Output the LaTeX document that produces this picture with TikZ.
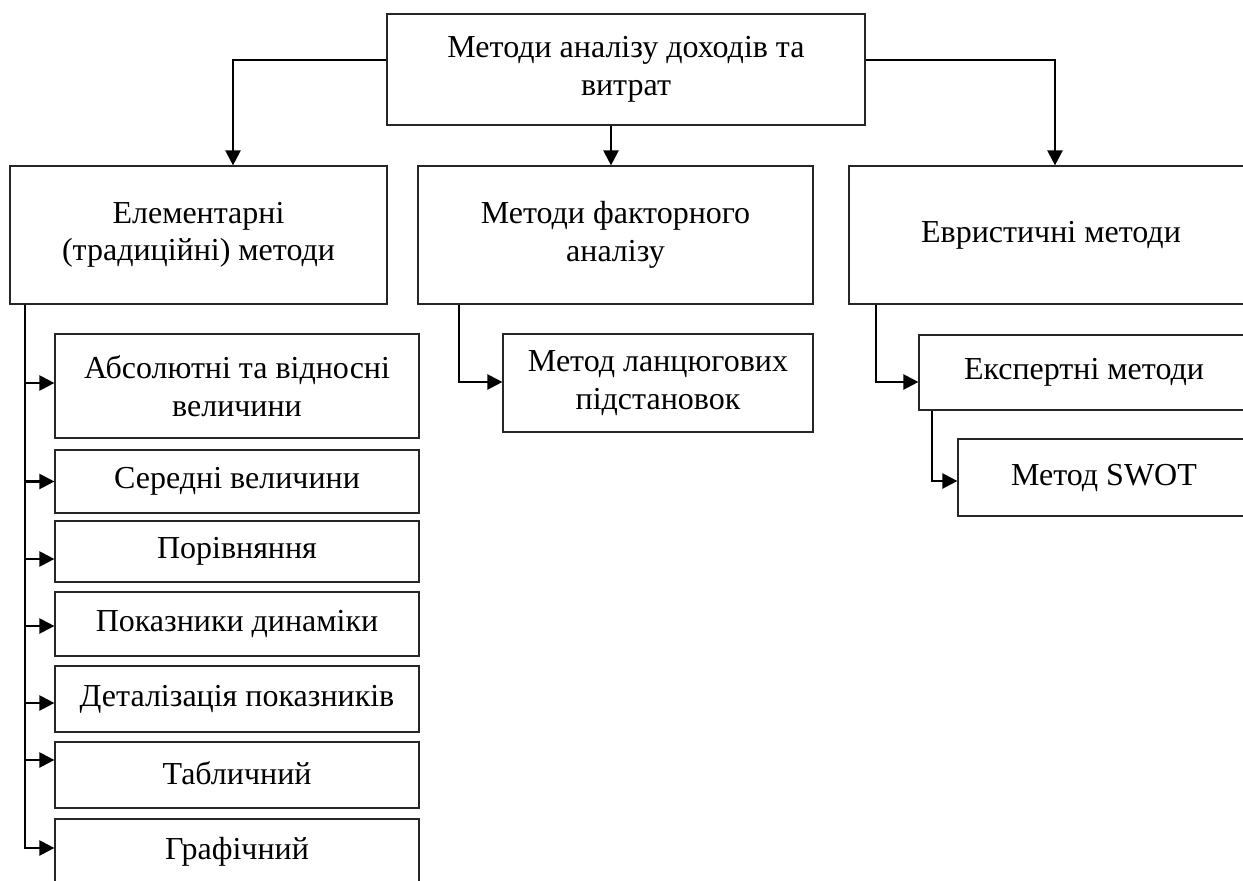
\documentclass[tikz,border=0pt]{standalone}
\usepackage{fontspec}
\setmainfont{Liberation Serif}
\usetikzlibrary{arrows.meta}
\tikzset{
  box/.style={draw=black!85, line width=1.2pt, rectangle, inner sep=0pt, align=center,
    font=\fontsize{32}{37.5}\selectfont, fill=white},
  conn/.style={draw=black, line width=2.3pt, -{Triangle[length=15pt,width=15pt]}}
}
\begin{document}
\begin{tikzpicture}[x=1pt,y=-1pt]
\useasboundingbox (0,0) rectangle (1243,881);
\clip (0,0) rectangle (1243,881);
\fill[white] (0,0) rectangle (1243,881);
% top level
\node[box, minimum width=478pt, minimum height=111pt] (top) at (626,69.5) {Методи аналізу доходів та\\витрат};
\node[box, minimum width=377pt, minimum height=138pt] (elem) at (198.5,235) {Елементарні\\(традиційні) методи};
\node[box, minimum width=395pt, minimum height=138pt] (fact) at (615.5,235) {Методи факторного\\аналізу};
\node[box, minimum width=404pt, minimum height=138pt] (heur) at (1051,235) {Евристичні методи};
% elementary sub-boxes
\node[box, minimum width=364pt, minimum height=104pt] (abs) at (237,386) {Абсолютні та відносні\\величини};
\node[box, minimum width=364pt, minimum height=63pt] (ser) at (237,481.5) {Середні величини};
\node[box, minimum width=364pt, minimum height=61pt] (por) at (237,551.5) {Порівняння};
\node[box, minimum width=364pt, minimum height=64pt] (pok) at (237,624) {Показники динаміки};
\node[box, minimum width=364pt, minimum height=66pt] (det) at (237,699) {Деталізація показників};
\node[box, minimum width=364pt, minimum height=66pt] (tab) at (237,775) {\raisebox{4pt}{Табличний}};
\node[box, minimum width=364pt, minimum height=66pt] (graf) at (237,852) {Графічний};
% factor sub-box
\node[box, minimum width=310pt, minimum height=98pt] (lanc) at (658,383) {Метод ланцюгових\\підстановок};
% heuristic sub-boxes
\node[box, minimum width=330pt, minimum height=75pt] (exp) at (1084,372.5) {Експертні методи};
\node[box, minimum width=292pt, minimum height=77pt] (swot) at (1104,477.5) {Метод SWOT};
% connectors from top
\draw[conn] ([yshift=9.5pt]top.west) -| ([xshift=34.5pt]elem.north);
\draw[conn] ([xshift=-15pt]top.south) -- ([xshift=-4.5pt]fact.north);
\draw[conn] ([yshift=9.5pt]top.east) -| ([xshift=4pt]heur.north);
% elementary
\draw[conn] ([xshift=-173.5pt]elem.south) |- ([yshift=3pt]abs.west);
\draw[conn] ([xshift=-173.5pt]elem.south) |- (ser.west);
\draw[conn] ([xshift=-173.5pt]elem.south) |- ([yshift=-7.5pt]por.west);
\draw[conn] ([xshift=-173.5pt]elem.south) |- ([yshift=-2pt]pok.west);
\draw[conn] ([xshift=-173.5pt]elem.south) |- ([yshift=-4pt]det.west);
\draw[conn] ([xshift=-173.5pt]elem.south) |- ([yshift=15pt]tab.west);
\draw[conn] ([xshift=-173.5pt]elem.south) |- ([yshift=4pt]graf.west);
% factor
\draw[conn] ([xshift=-156.5pt]fact.south) |- ([yshift=1pt]lanc.west);
% heuristic
\draw[conn] ([xshift=-175pt]heur.south) |- ([yshift=-9.5pt]exp.west);
\draw[conn] ([xshift=-152pt]exp.south) |- ([yshift=-3.5pt]swot.west);
\end{tikzpicture}
\end{document}
